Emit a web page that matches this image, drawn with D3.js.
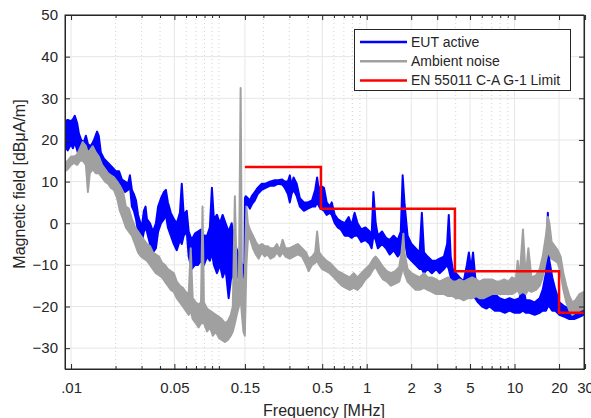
<!DOCTYPE html>
<html>
<head>
<meta charset="utf-8">
<script src="https://cdn.jsdelivr.net/npm/d3@7"></script>
<style>
  body { margin: 0; background: #fff; }
  text { font-family: "Liberation Sans", Arial, Helvetica, sans-serif; fill: #262626; }
</style>
</head>
<body>
<div id="chart"></div>
<script>
// EUT active trace: frequency [MHz], lower / upper edge of the noisy trace [dBuA/m]
var euFreq = [0.0091, 0.0095, 0.0100, 0.0103, 0.0106, 0.0110, 0.0113, 0.0117, 0.0122, 0.0126,
  0.0130, 0.0136, 0.0143, 0.0150, 0.0154, 0.0159, 0.0167, 0.0178, 0.0189, 0.0201,
  0.0211, 0.0221, 0.0232, 0.0243, 0.0250, 0.0258, 0.0266, 0.0275, 0.0284, 0.0292,
  0.0301, 0.0311, 0.0319, 0.0326, 0.0342, 0.0358, 0.0375, 0.0388, 0.0406, 0.0425,
  0.0438, 0.0452, 0.0473, 0.0496, 0.0519, 0.0545, 0.0561, 0.0578, 0.0606, 0.0625,
  0.0654, 0.0688, 0.0722, 0.0757, 0.0792, 0.0832, 0.0869, 0.0897, 0.0925, 0.0970,
  0.1016, 0.1060, 0.1110, 0.1164, 0.1220, 0.1283, 0.1342, 0.1400, 0.1445, 0.1490,
  0.1500, 0.1520, 0.157, 0.162, 0.167, 0.175, 0.183, 0.195, 0.207, 0.221,
  0.236, 0.252, 0.268, 0.279, 0.293, 0.302, 0.310, 0.320, 0.336, 0.353,
  0.376, 0.400, 0.427, 0.448, 0.462, 0.477, 0.488, 0.514, 0.536, 0.562,
  0.580, 0.608, 0.637, 0.668, 0.710, 0.755, 0.790, 0.828, 0.867, 0.920,
  0.980, 1.048, 1.080, 1.11, 1.15, 1.19, 1.27, 1.35, 1.43, 1.52,
  1.62, 1.70, 1.75, 1.80, 1.89, 2.01, 2.14, 2.28, 2.36, 2.44,
  2.58, 2.76, 2.95, 3.11, 3.33, 3.50, 3.59, 3.70, 3.82, 4.01,
  4.25, 4.53, 4.76, 4.91, 5.08, 5.24, 5.42, 5.66, 6.04, 6.45,
  6.78, 7.35, 7.92, 8.6, 9.25, 10.0, 10.8, 11.4, 11.9, 12.6,
  13.7, 14.8, 15.5, 16.3, 16.8, 17.2, 18.0, 18.9, 20.1, 21.8,
  23.5, 25.3, 27.5, 29.4];
var euLo = [18.5, 17.5, 19, 18, 19.5, 17.5, 16, 17, 16.5, 17,
  16, 15.5, 16, 16.5, 16, 14, 13, 12, 11.5, 10,
  9, 8, 7.5, 8, 9, 4, 3, 1, -2, -4,
  -4.5, -2, -1, -2, -5, -7, -6, -2, 0, 1,
  2, -1, -3, -5, -6.5, -4, -5, -3, -2, -8,
  -11, -10, -10, -9, -10, -8, -9, -7, -10, -12,
  -10, -13, -11, -18, -12, -14, -12, -16, -17, -16,
  -15, 4, 4.5, 3.5, 4.5, 5.5, 7, 8, 8.5, 9,
  9, 9.5, 9.3, 8.5, 7, 5, 7, 8, 6.5, 4,
  3, 3.5, 4, 4, 5, 4, 3.5, 3, 2, 2.5,
  2, 0, -1, -1.5, -3, -3, -3.5, -3, -3, -4.5,
  -4, -5, -6, -3, -4, -6, -5, -6, -7.5, -6.5,
  -8, -7, -6, -4, -8, -9, -10, -11, -11, -12,
  -11, -12, -11, -12, -11, -10, -11, -13, -14, -15,
  -17, -18, -17, -16, -17, -17, -18, -19, -20, -20.5,
  -20, -21, -21, -21.5, -21, -21.5, -21.5, -21, -21.5, -21.5,
  -22, -21.5, -21, -21, -20, -20, -21, -21, -22, -22.5,
  -23, -23, -22.5, -22];
var euHi = [24.5, 24.8, 24.5, 25, 25.8, 24, 21.5, 20, 19.5, 21,
  19, 18.5, 20, 22, 21, 17, 15.5, 14.5, 13.5, 12.5,
  12.5, 10.5, 10, 9.5, 11.5, 8, 7, 5.5, 2, 0.5,
  -1, 3, 4, 1, 0, -2, 0, 4, 6, 7.5,
  8, 5, 2.5, 1, 0, 2.5, 9.5, 2, 3, -2,
  -4, -2.5, -2, -1.5, -3, -3, -1, 8.5, 1, 2,
  0, 2, 0, -2, 0, -5, -7, -9, -10, -10,
  6, 6.5, 6, 5.5, 6.5, 7.5, 8.5, 9.5, 9.5, 10,
  10.3, 10.3, 10.5, 10, 10, 11.5, 9, 11, 9.5, 6,
  5, 5, 5.5, 8, 11, 7, 9, 8.5, 5, 4,
  5, 2, 1, 0.5, 0, 1.5, -0.5, 2.5, 0, -1.5,
  -1, -2, -3, 7.5, 0, -3, -2, -3.5, -4, -3,
  -4, -2, 11.5, 5, -3, -5, -6, -7, 2.5, -7,
  -8, -9, -9, -8.5, -8, -5, 2, -8, -11, -12,
  -13, -14, -10, -7, -11, -7, -13, -15, -16, -17,
  -16.5, -17, -18, -18.5, -18, -18.5, -18, -15, -18.5, -18.5,
  -19, -18, -16, -12, 2.5, -9, -13, -16, -19, -20,
  -20.5, -20, -19.5, -18.5];

// Ambient noise trace
var ambFreq = [0.0091, 0.0095, 0.0100, 0.0105, 0.0110, 0.0115, 0.0120, 0.0126, 0.0130, 0.0134,
  0.0140, 0.0147, 0.0154, 0.0162, 0.0170, 0.0178, 0.0186, 0.0195, 0.0205, 0.0214,
  0.0225, 0.0235, 0.0246, 0.0258, 0.0271, 0.0284, 0.0297, 0.0311, 0.0326, 0.0342,
  0.0358, 0.0375, 0.0393, 0.0412, 0.0431, 0.0452, 0.0473, 0.0496, 0.0519, 0.0545,
  0.0571, 0.0597, 0.0625, 0.0645, 0.0665, 0.0697, 0.0730, 0.0757, 0.0775, 0.0792,
  0.0832, 0.0869, 0.0911, 0.0954, 0.0999, 0.1046, 0.1098, 0.1150, 0.1204, 0.1242,
  0.1283, 0.1321, 0.1365, 0.1403, 0.1432, 0.1465, 0.1498, 0.1535, 0.157, 0.162,
  0.170, 0.178, 0.186, 0.195, 0.204, 0.213, 0.223, 0.236, 0.247, 0.258,
  0.270, 0.282, 0.302, 0.320, 0.342, 0.365, 0.389, 0.405, 0.427, 0.448,
  0.462, 0.477, 0.500, 0.533, 0.562, 0.599, 0.637, 0.679, 0.721, 0.767,
  0.816, 0.867, 0.920, 0.980, 1.048, 1.11, 1.15, 1.21, 1.29, 1.37,
  1.46, 1.56, 1.66, 1.72, 1.77, 1.80, 1.89, 2.01, 2.14, 2.28,
  2.44, 2.58, 2.76, 2.95, 3.11, 3.33, 3.55, 3.82, 4.01, 4.25,
  4.53, 4.83, 5.16, 5.51, 5.80, 6.20, 6.60, 7.04, 7.55, 7.92,
  8.5, 9.1, 9.6, 10.2, 10.5, 10.8, 11.4, 11.9, 12.4, 13.0,
  14.0, 14.8, 15.5, 16.3, 16.8, 17.2, 17.8, 18.7, 19.6, 20.5,
  21.4, 22.4, 23.5, 24.6, 25.8, 27.5, 29.4];
var ambLo = [12.5, 13, 14, 14.5, 14, 15, 15, 14, 7.5, 12,
  13, 12, 12, 11, 10, 9.5, 8.5, 8, 6, 3,
  1, -1, -2, -3, -5, -7, -8, -8.5, -9, -10,
  -11, -12, -12.5, -13, -14, -15, -16, -16.5, -18, -19,
  -20, -21, -22, -21, -23, -24, -25, -24, -24, -24,
  -26, -25, -27, -26, -27.5, -28, -28.5, -28, -27, -26,
  -24, -22, -20, -18, -22, -26, -27, -10, -4, -3.5,
  -6, -7.5, -8.5, -7, -8, -7.5, -8.5, -8, -7, -8,
  -7, -8, -8.5, -8, -7.5, -8, -10, -11.5, -10, -9.5,
  -9, -10, -11, -11.5, -12, -13, -14, -15, -15.5, -16,
  -15.5, -16, -15, -13.5, -12.5, -11, -10.5, -12, -13.5, -14,
  -15, -14.5, -14, -12, -10, -12, -14, -15, -16, -16,
  -15.5, -16, -16.5, -17, -17, -17, -17.5, -17.5, -18, -18,
  -18.5, -18, -18, -17.5, -18, -18, -17.5, -17, -17, -17,
  -17, -17, -17, -16.5, -16, -17, -16.5, -17, -16, -16.5,
  -16, -15, -13, -9, -7, -7.5, -8.5, -9, -9.5, -12,
  -16, -19, -21, -22, -21.5, -21, -20.5];
var ambHi = [14.5, 15, 16, 16, 16.5, 18, 19.5, 18.5, 17, 17.5,
  18.5, 17, 16, 14, 13, 12, 11.5, 11, 10, 9,
  7.5, 4, 3.5, 1, -1, -2, -3, -4, -5, -5.5,
  -7, -7.5, -8, -9.5, -10, -11, -11.5, -12, -14, -15,
  -15.5, -16.5, -17, -6, -18, -19, -19.5, -19, 4, -19,
  -20.5, -21, -21.5, -22, -22.5, -23, -24, -23.5, -22, -20,
  6.5, -14, -15, 32.5, -13, -15, -12, 4, 0, -1.5,
  -3, -4.5, -5.5, -5, -5.5, -5.5, -6, -6, -5, -6.5,
  -4, -6, -6, -5.5, -5, -6, -7, -8.5, -8, -7,
  -2, -7, -8, -9, -9.5, -10.5, -11.5, -12, -12.5, -13,
  -12, -13, -12, -11, -10, -8.5, -8, -9, -10.5, -11.5,
  -12, -11.5, -10.5, -7, -2.5, -7, -11, -12, -12.5, -13,
  -12, -13, -13, -13.5, -14, -13.5, -13, -14, -14, -13.5,
  -14, -13.5, -13, -13.5, -14, -13.5, -13.5, -13.5, -14, -14,
  -13.5, -14, -13, -13.5, -9, -13.5, -1.5, -13, -6, -13,
  -12.5, -11, -8, -3, 1.5, 0, -4.5, -5.5, -6.5, -8,
  -12, -15, -17.5, -19, -18.5, -17, -16.5];

// EN 55011 class A group 1 limit (step starts)
var limFreq = [0.15, 0.49, 3.95, 20, 30];
var limVal = [13.5, 3.5, -11.5, -21.5, -21.5];

var xTickVals = [0.01, 0.05, 0.15, 0.5, 1, 2, 3, 5, 10, 20, 30];
var xTickLabels = [".01", "0.05", "0.15", "0.5", "1", "2", "3", "5", "10", "20", "30"];
var yTickVals = [-30, -20, -10, 0, 10, 20, 30, 40, 50];

var seriesNames = ["EUT active", "Ambient noise", "EN 55011 C-A G-1 Limit"];
var seriesColors = ["#0000ff", "#a0a0a0", "#ff0000"];

// layout
var svgWidth = 591, svgHeight = 418;
var plotLeft = 65, plotRight = 584, plotTop = 15, plotBottom = 369;

var svg = d3.select("#chart").append("svg")
    .attr("width", svgWidth)
    .attr("height", svgHeight);

var x = d3.scaleLog().domain([0.0091, 29.5]).range([plotLeft, plotRight]);
var y = d3.scaleLinear().domain([-35, 50]).range([plotBottom, plotTop]);

// minor log ticks (1..9 per decade) that are not labelled
var minorTicks = x.ticks().filter(function(t) {
    return xTickVals.every(function(m) { return Math.abs(m - t) / t > 1e-6; });
});

var grid = svg.append("g");
grid.selectAll(".minor").data(minorTicks).enter().append("line")
    .attr("x1", d => x(d)).attr("x2", d => x(d))
    .attr("y1", plotTop).attr("y2", plotBottom)
    .attr("stroke", "#c8c8c8").attr("stroke-width", 0.8)
    .attr("stroke-dasharray", "1,3");
grid.selectAll(".major").data(xTickVals).enter().append("line")
    .attr("x1", d => x(d)).attr("x2", d => x(d))
    .attr("y1", plotTop).attr("y2", plotBottom)
    .attr("stroke", "#e6e6e6").attr("stroke-width", 1);
grid.selectAll(".ygrid").data(yTickVals).enter().append("line")
    .attr("x1", plotLeft).attr("x2", plotRight)
    .attr("y1", d => y(d)).attr("y2", d => y(d))
    .attr("stroke", "#e6e6e6").attr("stroke-width", 1);

svg.append("clipPath").attr("id", "plotclip")
  .append("rect").attr("x", plotLeft).attr("y", plotTop)
    .attr("width", plotRight - plotLeft).attr("height", plotBottom - plotTop);

var plot = svg.append("g").attr("clip-path", "url(#plotclip)");

function band(freq, lo, hi) {
    var rows = freq.map(function(f, i) { return { f: f, lo: lo[i], hi: hi[i] }; });
    return d3.area()
        .x(d => x(d.f))
        .y0(d => y(d.lo))
        .y1(d => y(d.hi))(rows);
}

plot.append("path")
    .attr("d", band(euFreq, euLo, euHi))
    .attr("fill", seriesColors[0])
    .attr("stroke", seriesColors[0])
    .attr("stroke-width", 2)
    .attr("stroke-linejoin", "round");

plot.append("path")
    .attr("d", band(ambFreq, ambLo, ambHi))
    .attr("fill", seriesColors[1])
    .attr("stroke", seriesColors[1])
    .attr("stroke-width", 2)
    .attr("stroke-linejoin", "round");

var limLine = d3.line()
    .x((d, i) => x(limFreq[i]))
    .y(d => y(d))
    .curve(d3.curveStepAfter);
plot.append("path")
    .attr("d", limLine(limVal))
    .attr("fill", "none")
    .attr("stroke", seriesColors[2])
    .attr("stroke-width", 2.5);

// axes (box with inward ticks on all sides)
var axisColor = "#262626";
var axB = d3.axisBottom(x).tickValues(xTickVals)
    .tickFormat((d, i) => xTickLabels[i]).tickSizeInner(-5).tickSizeOuter(0).tickPadding(13);
svg.append("g").attr("transform", `translate(0,${plotBottom})`).call(axB);
var axT = d3.axisTop(x).tickValues(xTickVals).tickFormat("").tickSizeInner(-5).tickSizeOuter(0);
svg.append("g").attr("transform", `translate(0,${plotTop})`).call(axT);
var axL = d3.axisLeft(y).tickValues(yTickVals).tickSizeInner(-5).tickSizeOuter(0).tickPadding(7);
svg.append("g").attr("transform", `translate(${plotLeft},0)`).call(axL);
var axR = d3.axisRight(y).tickValues(yTickVals).tickFormat("").tickSizeInner(-5).tickSizeOuter(0);
svg.append("g").attr("transform", `translate(${plotRight},0)`).call(axR);

var axMinB = d3.axisBottom(x).tickValues(minorTicks).tickFormat("").tickSizeInner(-3).tickSizeOuter(0);
svg.append("g").attr("transform", `translate(0,${plotBottom})`).call(axMinB);
var axMinT = d3.axisTop(x).tickValues(minorTicks).tickFormat("").tickSizeInner(-3).tickSizeOuter(0);
svg.append("g").attr("transform", `translate(0,${plotTop})`).call(axMinT);

svg.selectAll(".domain").attr("stroke", axisColor);
svg.selectAll(".tick line").attr("stroke", axisColor);
svg.selectAll(".tick text")
    .style("font-family", '"Liberation Sans", Arial, sans-serif')
    .style("font-size", "15px")
    .attr("fill", axisColor);

svg.append("rect")
    .attr("x", plotLeft).attr("y", plotTop)
    .attr("width", plotRight - plotLeft).attr("height", plotBottom - plotTop)
    .attr("fill", "none").attr("stroke", axisColor).attr("stroke-width", 1);

// axis titles
svg.append("text")
    .attr("x", 324)
    .attr("y", 415.5)
    .attr("text-anchor", "middle")
    .style("font-size", "16px")
    .text("Frequency [MHz]");

svg.append("text")
    .attr("transform", "translate(25,184) rotate(-90)")
    .attr("text-anchor", "middle")
    .style("font-size", "16px")
    .text("Magnetic field [dBμA/m]");

// legend
var legend = svg.append("g");
legend.append("rect")
    .attr("x", 354.5).attr("y", 29.5)
    .attr("width", 216).attr("height", 61)
    .attr("fill", "#fff").attr("stroke", axisColor).attr("stroke-width", 1);
seriesNames.forEach(function(name, i) {
    var ly = 42 + i * 19.2;
    legend.append("line")
        .attr("x1", 360).attr("x2", 407)
        .attr("y1", ly).attr("y2", ly)
        .attr("stroke", seriesColors[i]).attr("stroke-width", 2.5);
    legend.append("text")
        .attr("x", 411).attr("y", ly + 5)
        .style("font-size", "14px")
        .text(name);
});
</script>
</body>
</html>
